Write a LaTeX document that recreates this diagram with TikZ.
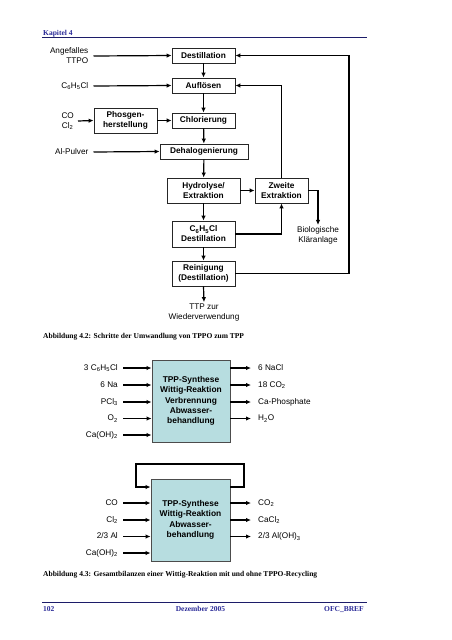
\documentclass[tikz,border=0pt]{standalone}
\usepackage{fontspec}
\setmainfont{Liberation Serif}
\newfontfamily\arialf{Liberation Sans}
\usetikzlibrary{arrows.meta}
\definecolor{hdrblue}{RGB}{40,40,150}
\definecolor{tppfill}{RGB}{183,221,224}
\tikzset{
  boxn/.style={draw=black!85, line width=0.8pt, font=\arialf\bfseries\fontsize{8.3}{10}\selectfont, align=center, inner sep=0pt},
  lab/.style={font=\arialf\fontsize{8.2}{10}\selectfont, align=right, inner sep=0pt, text height=6pt, text depth=1.5pt},
  labl/.style={font=\arialf\fontsize{8.2}{10}\selectfont, align=left, inner sep=0pt, text height=6pt, text depth=1.5pt},
  labc/.style={font=\arialf\fontsize{8.2}{10}\selectfont, align=center, inner sep=0pt},
  arr/.style={line width=1.2pt, -{Latex[length=5pt,width=4.5pt]}},
  captext/.style={font=\bfseries\fontsize{7.5}{9}\selectfont, inner sep=0pt, anchor=base west},
  hdr/.style={font=\bfseries\fontsize{7.5}{9}\selectfont, text=hdrblue, inner sep=0pt},
  tppbox/.style={draw=black!70, line width=0.9pt, fill=tppfill, font=\arialf\bfseries\fontsize{8.4}{10.4}\selectfont, align=center, inner sep=0pt}
}
\begin{document}
\begin{tikzpicture}[x=1pt,y=-1pt]
\useasboundingbox (0,0) rectangle (452,640);
% header / footer
\node[hdr, anchor=base west] (kap) at (43,35) {Kapitel 4};
\coordinate (hl1) at (42,37.5); \coordinate (hr1) at (367,37.5);
\draw[hdrblue!70!black, line width=0.8pt] (hl1) -- (hr1);
\coordinate (fl1) at (42,602); \coordinate (fr1) at (367,602);
\draw[hdrblue!70!black, line width=0.8pt] (fl1) -- (fr1);
\node[hdr, anchor=base west] (pg) at (43,611) {102};
\node[hdr, anchor=base] (dz) at (200.5,611) {Dezember 2005};
\node[hdr, anchor=base east] (ofc) at (364,611) {OFC\_BREF};

% figure 4.2 boxes
\node[boxn, minimum width=63pt, minimum height=15pt] (dest) at (203.5,55.5) {Destillation};
\node[boxn, minimum width=63pt, minimum height=15pt] (aufl) at (203.5,85.5) {Auflösen};
\node[boxn, minimum width=63pt, minimum height=25pt] (phos) at (125.5,120.5) {Phosgen-\\herstellung};
\node[boxn, minimum width=63pt, minimum height=15pt] (chlor) at (203.5,120.5) {Chlorierung};
\node[boxn, minimum width=88pt, minimum height=15pt] (dehal) at (204,151.5) {Dehalogenierung};
\node[boxn, minimum width=73pt, minimum height=25pt] (hydro) at (203.5,190.5) {Hydrolyse/\\Extraktion};
\node[boxn, minimum width=53pt, minimum height=25pt] (zweite) at (281.5,190.5) {Zweite\\Extraktion};
\node[boxn, minimum width=63pt, minimum height=26pt] (cdest) at (203.5,234) {C\textsubscript{6}H\textsubscript{5}Cl\\Destillation};
\node[boxn, minimum width=63pt, minimum height=25pt] (rein) at (203.5,273.5) {Reinigung\\(Destillation)};

% labels
\node[labc, anchor=east, align=right] (inA) at (88.5,56) {Angefalles\\TTPO};
\node[lab, anchor=east] (inB) at (88.5,86) {C\textsubscript{6}H\textsubscript{5}Cl};
\node[labc, anchor=east, align=center] (inC) at (74,121) {CO\\Cl\textsubscript{2}};
\node[lab, anchor=east] (inD) at (88.5,152) {Al-Pulver};
\node[labc] (bio) at (318,235) {Biologische\\Kläranlage};
\node[labc] (ttp) at (204,313) {TTP zur\\Wiederverwendung};

% connectors fig 4.2
\draw[arr] ([xshift=5pt]inA.east) -- (dest.west);
\draw[arr] ([xshift=5pt]inB.east) -- (aufl.west);
\draw[arr] ([xshift=4pt]inC.east) -- (phos.west);
\draw[arr] (phos.east) -- (chlor.west);
\draw[arr] ([xshift=5pt]inD.east) -- (dehal.west);
\draw[arr] (dest) -- (aufl);
\draw[arr] (aufl) -- (chlor);
\draw[arr] (chlor) -- (dehal);
\draw[arr] (dehal) -- (hydro);
\draw[arr] (hydro) -- (cdest);
\draw[arr] (cdest) -- (rein);
\draw[arr] (rein.south) -- ([yshift=2pt]ttp.north);
\draw[arr] (hydro) -- (zweite);
\draw[arr] (zweite.east) -| ([yshift=1pt]bio.north);
\draw[arr] (cdest.east) -| (zweite.south);
\draw[arr] (zweite.north) |- (aufl.east);
\coordinate (rc) at (349,273.5);
\draw[arr] (rein.east) -- (rc) |- (dest.east);

\node[captext] (cap1) at (43,338) {Abbildung 4.2: Schritte der Umwandlung von TPPO zum TPP};

% figure 4.3 upper
\node[tppbox, minimum width=78pt, minimum height=82pt] (tpp1) at (191,401) {TPP-Synthese\\Wittig-Reaktion\\Verbrennung\\Abwasser-\\behandlung};
\node[lab, anchor=east] (a1) at (118,368) {3 C\textsubscript{6}H\textsubscript{5}Cl};
\node[lab, anchor=east] (a2) at (118,385) {6 Na};
\node[lab, anchor=east] (a3) at (118,402) {PCl\textsubscript{3}};
\node[lab, anchor=east] (a4) at (118,418.5) {O\textsubscript{2}};
\node[lab, anchor=east] (a5) at (118,435) {Ca(OH)\textsubscript{2}};
\foreach \n in {a1,a2,a3,a4,a5}{
  \draw[arr] ([xshift=5pt]\n.east) -- (tpp1.west |- \n.east);
}
\node[labl, anchor=west] (b1) at (258,368) {6 NaCl};
\node[labl, anchor=west] (b2) at (258,385) {18 CO\textsubscript{2}};
\node[labl, anchor=west] (b3) at (258,402) {Ca-Phosphate};
\node[labl, anchor=west] (b4) at (258,418.5) {H\textsubscript{2}O};
\foreach \n in {b1,b2,b3,b4}{
  \draw[arr] (tpp1.east |- \n.west) -- ([xshift=-7pt]\n.west);
}

% figure 4.3 lower
\node[tppbox, minimum width=79pt, minimum height=82pt] (tpp2) at (190.5,520) {TPP-Synthese\\Wittig-Reaktion\\Abwasser-\\behandlung};
\coordinate (lpa) at (230,487);
\coordinate (lpb) at (244,487);
\coordinate (lpc) at (244,464);
\coordinate (lpd) at (136,464);
\coordinate (lpe) at (136,487);
\draw[arr] (tpp2.east |- lpa) -- (lpb) -- (lpc) -- (lpd) -- (lpe) -- (tpp2.west |- lpe);
\node[lab, anchor=east] (c1) at (118,503) {CO};
\node[lab, anchor=east] (c2) at (118,520) {Cl\textsubscript{2}};
\node[lab, anchor=east] (c3) at (118,536.5) {2/3 Al};
\node[lab, anchor=east] (c4) at (118,553) {Ca(OH)\textsubscript{2}};
\foreach \n in {c1,c2,c3,c4}{
  \draw[arr] ([xshift=5pt]\n.east) -- (tpp2.west |- \n.east);
}
\node[labl, anchor=west] (d1) at (258,503) {CO\textsubscript{2}};
\node[labl, anchor=west] (d2) at (258,520) {CaCl\textsubscript{2}};
\node[labl, anchor=west] (d3) at (258,536.5) {2/3 Al(OH)\textsubscript{3}};
\foreach \n in {d1,d2,d3}{
  \draw[arr] (tpp2.east |- \n.west) -- ([xshift=-7pt]\n.west);
}
\node[captext] (cap2) at (43,576) {Abbildung 4.3: Gesamtbilanzen einer Wittig-Reaktion mit und ohne TPPO-Recycling};
\end{tikzpicture}
\end{document}
